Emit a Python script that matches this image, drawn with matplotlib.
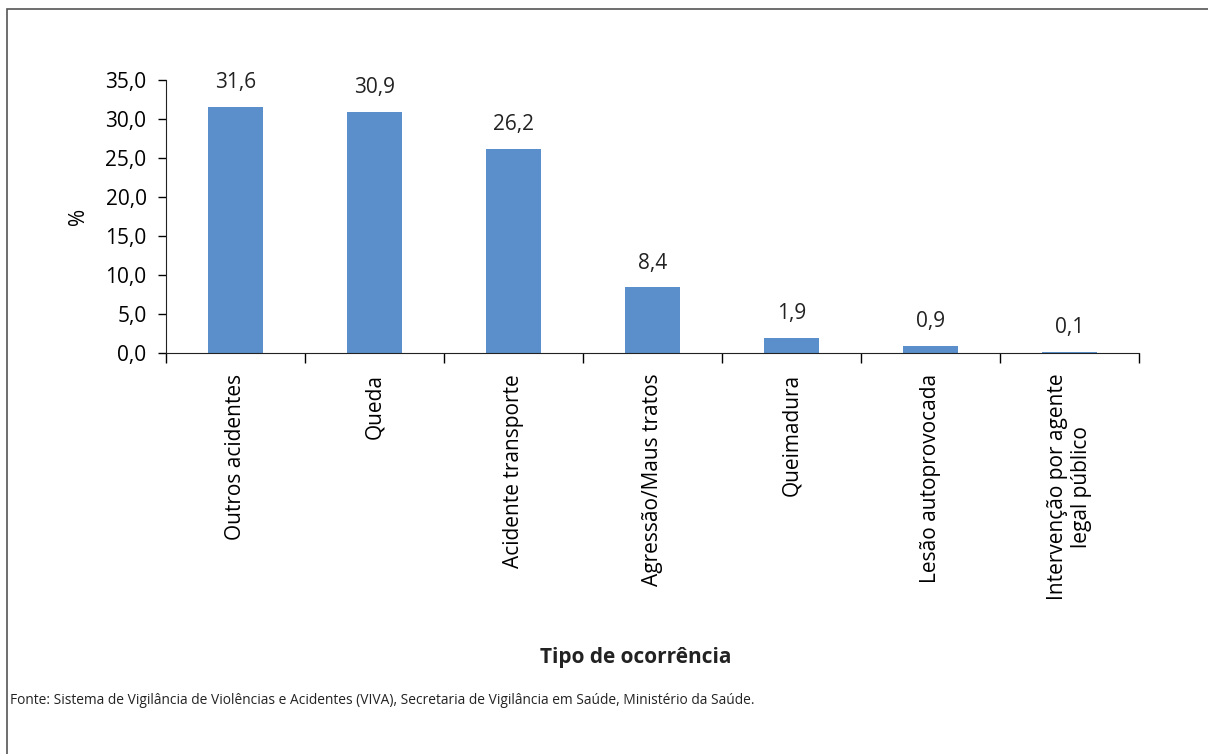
import matplotlib.pyplot as plt
from matplotlib.patches import Rectangle
from matplotlib.ticker import FuncFormatter, FixedLocator

plt.rcParams['font.family'] = ['Open Sans', 'DejaVu Sans']

categorias = ["Outros acidentes", "Queda", "Acidente transporte",
              "Agressão/Maus tratos", "Queimadura", "Lesão autoprovocada",
              "Intervenção por agente\nlegal público"]
valores = [31.6, 30.9, 26.2, 8.4, 1.9, 0.9, 0.1]
rotulos = ["31,6", "30,9", "26,2", "8,4", "1,9", "0,9", "0,1"]

fig = plt.figure(figsize=(12.08, 7.54), dpi=100)

# moldura externa
fig.patches.append(Rectangle((7 / 1208, -0.01), 1.02, 1 - 9 / 754 + 0.01,
                             transform=fig.transFigure, fill=False,
                             edgecolor='#555555', linewidth=1.2))

ax = fig.add_axes([166 / 1208, 1 - 353 / 754, (1139 - 166) / 1208, (353 - 80) / 754])
x = range(len(categorias))
bars = ax.bar(x, valores, width=0.40, color='#5b8fcb')

for b, r in zip(bars, rotulos):
    ax.annotate(r, (b.get_x() + b.get_width() / 2, b.get_height()),
                xytext=(0, 10), textcoords='offset points',
                ha='center', va='bottom', fontsize=15, color='#222222')

ax.set_xlim(-0.5, len(categorias) - 0.5)
ax.set_ylim(0, 35)
ax.set_yticks([0, 5, 10, 15, 20, 25, 30, 35])
ax.yaxis.set_major_formatter(FuncFormatter(lambda v, p: f"{v:.1f}".replace('.', ',')))
ax.tick_params(axis='y', direction='out', length=6, width=1, labelsize=15, pad=8)

ax.set_xticks(list(x))
ax.set_xticklabels(categorias, rotation=90, fontsize=15, va='top', ha='center',
                   multialignment='center')
ax.tick_params(axis='x', length=0, pad=15)
ax.xaxis.set_minor_locator(FixedLocator([i - 0.5 for i in range(len(categorias) + 1)]))
ax.tick_params(axis='x', which='minor', direction='out', length=7, width=1)

for s in ['top', 'right']:
    ax.spines[s].set_visible(False)
ax.spines['left'].set_color('#222222')
ax.spines['bottom'].set_color('#222222')

ax.set_ylabel('%', fontsize=15, labelpad=12)

fig.text(636 / 1208, 1 - 657 / 754, 'Tipo de ocorrência', ha='center', va='center',
         fontsize=15, fontweight='bold', color='#222222')
fig.text(10 / 1208, 1 - 701 / 754,
         'Fonte: Sistema de Vigilância de Violências e Acidentes (VIVA), Secretaria de Vigilância em Saúde, Ministério da Saúde.',
         ha='left', va='center', fontsize=9.9, color='#222222')

fig.savefig('out.png', dpi=100)
